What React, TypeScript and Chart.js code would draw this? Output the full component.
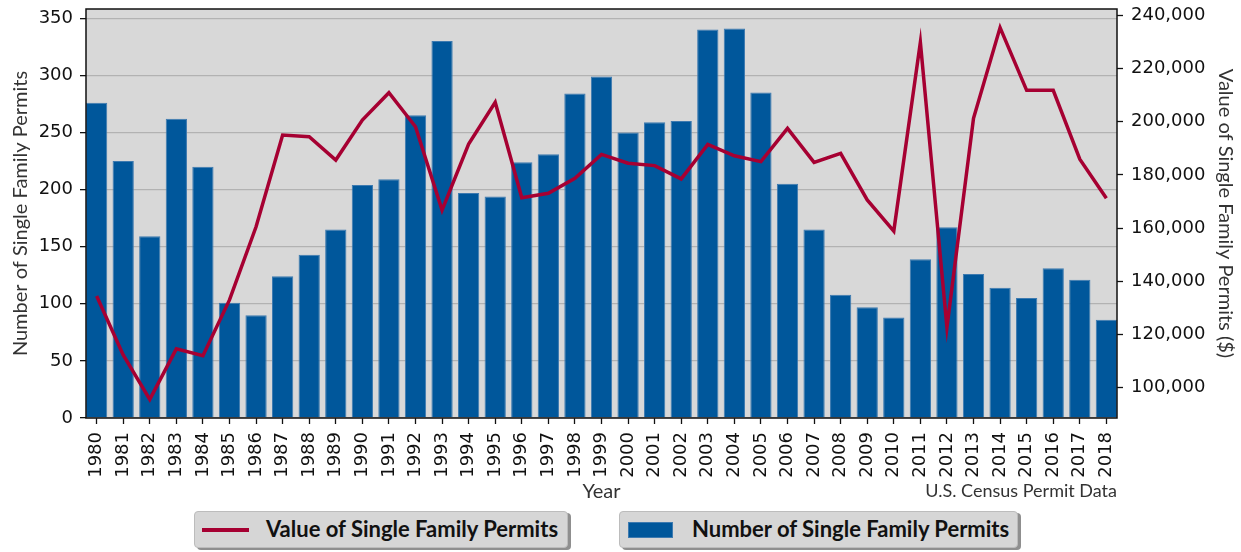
import React, { useEffect, useRef } from "react";
import { Chart, registerables } from "chart.js";

Chart.register(...registerables);

const years = [
  "1980", "1981", "1982", "1983", "1984", "1985", "1986", "1987", "1988", "1989",
  "1990", "1991", "1992", "1993", "1994", "1995", "1996", "1997", "1998", "1999",
  "2000", "2001", "2002", "2003", "2004", "2005", "2006", "2007", "2008", "2009",
  "2010", "2011", "2012", "2013", "2014", "2015", "2016", "2017", "2018",
];

const permitCounts = [
  276, 225, 159, 262, 220, 101, 90, 124, 143, 165,
  204, 209, 265, 330, 197, 194, 224, 231, 284, 299,
  250, 259, 260, 340, 341, 285, 205, 165, 108, 97,
  88, 139, 167, 126, 114, 105, 131, 121, 86,
];

const permitValues = [
  134500, 112300, 95600, 114600, 112000, 133000, 160500, 195000, 194400, 185600,
  200600, 210900, 198100, 166800, 191600, 207300, 171400, 173100, 178700, 187700,
  184400, 183500, 178500, 191500, 187200, 185000, 197500, 184700, 188100, 170600,
  158900, 229900, 122700, 201300, 235400, 211800, 211800, 185900, 171200,
];

const leftTicks = [0, 50, 100, 150, 200, 250, 300, 350];
const rightTicks = [100000, 120000, 140000, 160000, 180000, 200000, 220000, 240000];

const lineLabel = "Value of Single Family Permits";
const barLabel = "Number of Single Family Permits";
const rightTitle = "Value of Single Family Permits ($)";
const xTitle = "Year";
const sourceText = "U.S. Census Permit Data";

const CANVAS_W = 1241;
const CANVAS_H = 510;
const PLOT_LEFT = 86;
const PLOT_RIGHT = 1117;
const PLOT_TOP = 9;
const PLOT_BOTTOM = 418;

const BAR_COLOR = "#00579b";
const LINE_COLOR = "#a60032";
const TICK_FONT = { family: "'DejaVu Sans'", size: 18 };
const TITLE_FONT = { family: "Lato", size: 20 };

const zeroPad = (s: any) => {
  s.paddingTop = 0;
  s.paddingBottom = 0;
  s.paddingLeft = 0;
  s.paddingRight = 0;
};

export default function App() {
  const ref = useRef<HTMLCanvasElement | null>(null);

  useEffect(() => {
    document.body.style.margin = "0";
    const canvas = ref.current;
    if (!canvas) return;

    const vMin = Math.min(...permitValues);
    const vMax = Math.max(...permitValues);
    const vPad = (vMax - vMin) * 0.05;
    const cMax = Math.max(...permitCounts) * 1.05;

    const decor = {
      id: "decor",
      beforeDraw(chart: any) {
        const { ctx, chartArea: a } = chart;
        ctx.save();
        ctx.fillStyle = "#d8d8d8";
        ctx.fillRect(a.left, a.top, a.right - a.left, a.bottom - a.top);
        ctx.restore();
      },
      afterDatasetsDraw(chart: any) {
        const { ctx, chartArea: a } = chart;
        ctx.save();
        ctx.strokeStyle = "#111";
        ctx.lineWidth = 1.5;
        ctx.strokeRect(a.left, a.top, a.right - a.left, a.bottom - a.top);
        ctx.restore();
      },
      afterDraw(chart: any) {
        const { ctx, chartArea: a } = chart;
        ctx.save();
        ctx.font = "18px Lato";
        ctx.fillStyle = "#333";
        ctx.textAlign = "right";
        ctx.textBaseline = "alphabetic";
        ctx.fillText(sourceText, a.right, 497);
        ctx.restore();
      },
    };

    const chart = new Chart(canvas, {
      type: "bar",
      data: {
        datasets: [
          {
            type: "line",
            label: lineLabel,
            data: permitValues.map((v, i) => ({ x: i, y: v })),
            xAxisID: "x",
            yAxisID: "y1",
            borderColor: LINE_COLOR,
            backgroundColor: LINE_COLOR,
            borderWidth: 3.5,
            pointRadius: 0,
            tension: 0,
            order: 0,
          } as any,
          {
            type: "bar",
            label: barLabel,
            data: permitCounts.map((v, i) => ({ x: i, y: v })),
            xAxisID: "x",
            yAxisID: "y",
            backgroundColor: BAR_COLOR,
            borderColor: "#3d7ab0",
            borderWidth: 1,
            barPercentage: 0.8,
            categoryPercentage: 1,
            order: 1,
          } as any,
        ],
      },
      options: {
        animation: false,
        responsive: false,
        maintainAspectRatio: false,
        devicePixelRatio: 1,
        layout: { padding: { top: PLOT_TOP, left: 0, right: 0, bottom: 0 } },
        plugins: {
          legend: { display: false },
          tooltip: { enabled: false },
        },
        scales: {
          x: {
            type: "linear",
            position: "bottom",
            bounds: "data",
            offset: false,
            min: -0.4,
            max: years.length - 0.6,
            afterBuildTicks: (s: any) => {
              s.ticks = years.map((_, i) => ({ value: i }));
            },
            afterFit: (s: any) => {
              s.height = CANVAS_H - PLOT_BOTTOM;
              zeroPad(s);
            },
            ticks: {
              autoSkip: false,
              minRotation: 90,
              maxRotation: 90,
              padding: 8,
              color: "#111",
              font: TICK_FONT,
              callback: (v: any) => years[v] ?? "",
            },
            grid: {
              offset: false,
              drawOnChartArea: false,
              drawTicks: true,
              tickLength: 6,
              tickColor: "#111",
              tickWidth: 1.3,
            },
            border: { display: false },
            title: {
              display: true,
              text: xTitle,
              color: "#333",
              font: TITLE_FONT,
              padding: { top: 0, bottom: 6 },
            },
          },
          y: {
            type: "linear",
            position: "left",
            bounds: "data",
            min: 0,
            max: cMax,
            afterBuildTicks: (s: any) => {
              s.ticks = leftTicks.map((v) => ({ value: v }));
            },
            afterFit: (s: any) => {
              s.width = PLOT_LEFT;
              zeroPad(s);
            },
            ticks: {
              padding: 7,
              color: "#111",
              font: TICK_FONT,
            },
            grid: {
              color: "#b2b2b2",
              lineWidth: 1.3,
              drawTicks: true,
              tickLength: 6,
              tickColor: "#111",
              tickWidth: 1.3,
            },
            border: { display: false },
            title: {
              display: true,
              text: barLabel,
              color: "#333",
              font: TITLE_FONT,
              padding: { top: 9, bottom: 0 },
            },
          },
          y1: {
            type: "linear",
            position: "right",
            bounds: "data",
            min: vMin - vPad,
            max: vMax + vPad,
            afterBuildTicks: (s: any) => {
              s.ticks = rightTicks.map((v) => ({ value: v }));
            },
            afterFit: (s: any) => {
              s.width = CANVAS_W - PLOT_RIGHT;
              zeroPad(s);
            },
            ticks: {
              padding: 8,
              color: "#111",
              font: TICK_FONT,
              callback: (v: any) => Number(v).toLocaleString("en-US"),
            },
            grid: {
              drawOnChartArea: false,
              drawTicks: true,
              tickLength: 6,
              tickColor: "#111",
              tickWidth: 1.3,
            },
            border: { display: false },
            title: {
              display: true,
              text: rightTitle,
              color: "#333",
              font: TITLE_FONT,
              padding: { top: 4, bottom: 0 },
            },
          },
        },
      },
      plugins: [decor],
    });

    return () => chart.destroy();
  }, []);

  const boxBase: React.CSSProperties = {
    position: "absolute",
    top: 511,
    height: 37,
    background: "#d6d6d6",
    border: "1px solid #bcbcbc",
    borderRadius: 4,
    boxShadow: "3px 2px 0 #8f8f8f",
    boxSizing: "border-box",
  };
  const textStyle: React.CSSProperties = {
    position: "absolute",
    top: 5,
    fontFamily: "Lato",
    fontWeight: 700,
    fontSize: 22,
    lineHeight: "24px",
    color: "#111",
    whiteSpace: "nowrap",
  };

  return (
    <div style={{ position: "relative", width: CANVAS_W, height: 552, overflow: "hidden", background: "#fff" }}>
      <canvas ref={ref} width={CANVAS_W} height={CANVAS_H} style={{ display: "block", width: CANVAS_W, height: CANVAS_H }} />
      <div style={{ ...boxBase, left: 194, width: 374 }}>
        <div style={{ position: "absolute", left: 7, top: 16, width: 47, height: 4, background: LINE_COLOR }} />
        <div style={{ ...textStyle, left: 71 }}>{lineLabel}</div>
      </div>
      <div style={{ ...boxBase, left: 619, width: 399 }}>
        <div style={{ position: "absolute", left: 8, top: 10, width: 45, height: 16, background: BAR_COLOR, border: "1px solid #3d7ab0", boxSizing: "border-box" }} />
        <div style={{ ...textStyle, left: 72 }}>{barLabel}</div>
      </div>
    </div>
  );
}
